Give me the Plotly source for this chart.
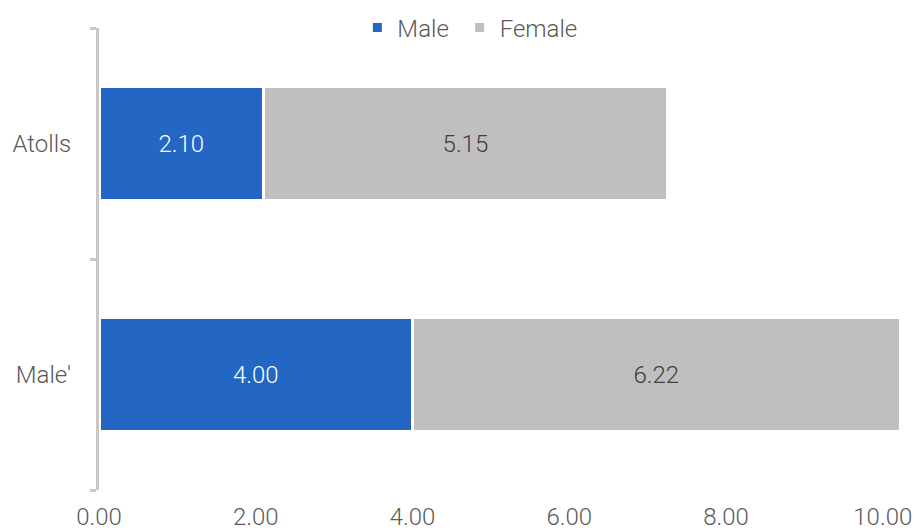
import plotly.graph_objects as go

categories = ["Male'", "Atolls"]
male_values = [4.00, 2.10]
female_values = [6.22, 5.15]
series_names = ["Male", "Female"]
x_ticks = [0, 2, 4, 6, 8, 10]
x_tick_labels = ["0.00", "2.00", "4.00", "6.00", "8.00", "10.00"]

FONT = "Roboto Light, Roboto"
FS = 24
fig = go.Figure()
fig.add_trace(go.Bar(
    y=categories, x=male_values, name=series_names[0] + "\u00a0", orientation="h",
    marker=dict(color="#2366c4", line=dict(color="white", width=3)),
    text=[f"{v:.2f}" for v in male_values], textposition="inside",
    insidetextanchor="middle",
    textfont=dict(color="white", size=FS, family=FONT, weight=300),
    width=0.49,
))
fig.add_trace(go.Bar(
    y=categories, x=female_values, name=series_names[1], orientation="h",
    marker=dict(color="#bfbfbf", line=dict(color="white", width=3)),
    text=[f"{v:.2f}" for v in female_values], textposition="inside",
    insidetextanchor="middle",
    textfont=dict(color="#404040", size=FS, family=FONT, weight=300),
    width=0.49,
))
fig.update_layout(
    barmode="stack",
    width=916, height=532,
    margin=dict(l=99, r=16, t=28, b=42, autoexpand=False),
    paper_bgcolor="white", plot_bgcolor="white",
    font=dict(family=FONT, size=FS, color="#595959", weight=300),
    uniformtext=dict(minsize=FS, mode="show"),
    legend=dict(orientation="h", x=0.463, xanchor="center", y=1.0, yanchor="middle",
                font=dict(size=FS, color="#595959", family=FONT, weight=300),
                traceorder="normal", itemwidth=30),
    xaxis=dict(range=[0, 10.22], tickvals=x_ticks, ticktext=x_tick_labels,
               showgrid=False, zeroline=False, showline=False, ticks="",
               ticklabelstandoff=10, automargin=False, fixedrange=True),
    yaxis=dict(range=[-0.5, 1.5], showgrid=False, zeroline=False,
               showline=True, linecolor="#c8c8c8", linewidth=3,
               ticks="outside", tickson="boundaries", ticklen=6, tickwidth=3,
               tickcolor="#c8c8c8", ticklabelstandoff=20, automargin=False,
               fixedrange=True),
    showlegend=True,
)
fig.write_html("out.html", config={"displayModeBar": False},
               post_script="document.body.style.margin='0';")
